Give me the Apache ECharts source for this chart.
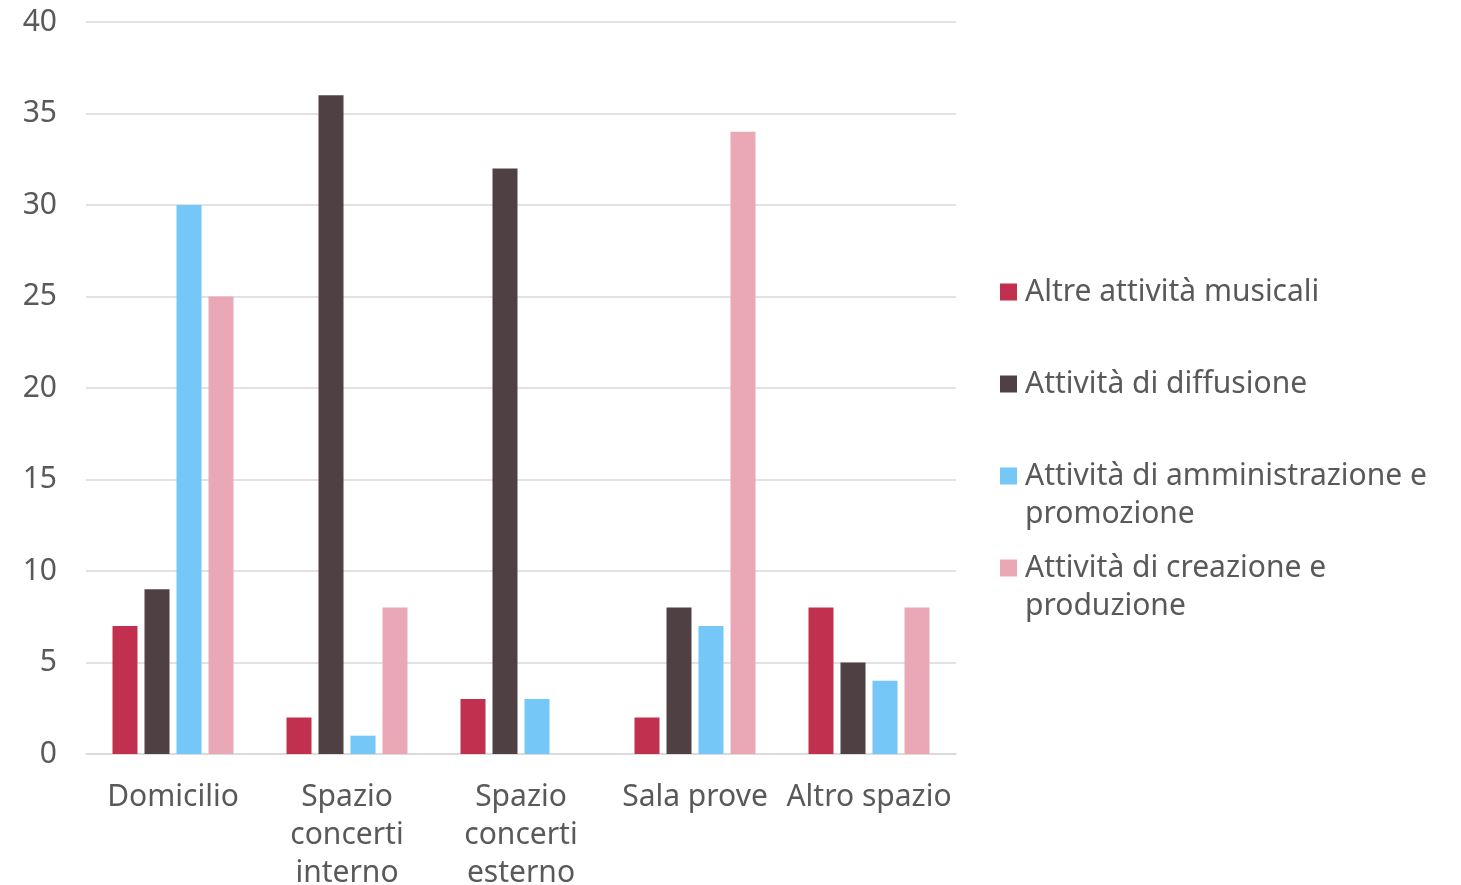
<!DOCTYPE html>
<html>
<head>
<meta charset="utf-8">
<script src="https://cdn.jsdelivr.net/npm/echarts@6/dist/echarts.min.js"></script>
<style>
  html, body { margin: 0; padding: 0; background: #ffffff; }
  #chart { width: 1461px; height: 885px; }
</style>
</head>
<body>
<div id="chart"></div>
<script>
// Luoghi in cui si svolgono le attività
const categories = ['Domicilio', 'Spazio concerti interno', 'Spazio concerti esterno', 'Sala prove', 'Altro spazio'];

const seriesNames = [
  'Altre attività musicali',
  'Attività di diffusione',
  'Attività di amministrazione e promozione',
  'Attività di creazione e produzione'
];

const altreAttivita      = [7, 2, 3, 2, 8];
const diffusione         = [9, 36, 32, 8, 5];
const amministrazione    = [30, 1, 3, 7, 4];
const creazione          = [25, 8, 0, 34, 8];

const yTicks = [0, 5, 10, 15, 20, 25, 30, 35, 40];

const seriesValues = [altreAttivita, diffusione, amministrazione, creazione];
const colors = ['#C1304F', '#4F4043', '#75C7F7', '#EAA8B7'];

const FONT = '"Noto Sans", sans-serif';
const FONT_SIZE = 30;
const TEXT = '#595959';
const GRID_LINE = '#D9D9D9';

const chart = echarts.init(document.getElementById('chart'), null, { renderer: 'canvas' });

// One legend block per series so each entry sits on its own row.
// Wrapped entries get an empty leading line so the swatch, centred on
// the text block, lines up with the first visible line.
const legendCenters = [292, 384, 476, 568];
const LINE_H = 38;
const legends = seriesNames.map((name, i) => {
  const wrapped = name.indexOf(' e ') > 0;
  const boxH = wrapped ? LINE_H * 3 : LINE_H;
  return {
    data: [name],
    orient: 'vertical',
    left: 1000,
    top: legendCenters[i] - boxH / 2,
    padding: 0,
    itemWidth: 17,
    itemHeight: 17,
    icon: 'rect',
    selectedMode: false,
    formatter: n => wrapped ? ' \n' + n.replace(' e ', ' e\n') : n,
    textStyle: {
      fontFamily: FONT,
      fontSize: FONT_SIZE,
      color: TEXT,
      lineHeight: LINE_H,
      padding: [0, 0, 0, 3]
    }
  };
});

chart.setOption({
  animation: false,
  color: colors,
  legend: legends,
  grid: {
    left: 86,
    right: 505,
    top: 22,
    bottom: 131,
    containLabel: false,
    outerBoundsMode: 'none'
  },
  xAxis: {
    type: 'category',
    data: categories,
    axisLine: { show: true, lineStyle: { color: GRID_LINE, width: 1.5 } },
    axisTick: { show: false },
    axisLabel: {
      interval: 0,
      margin: 24,
      fontFamily: FONT,
      fontSize: FONT_SIZE,
      color: TEXT,
      lineHeight: LINE_H,
      formatter: v => v.split(' ').length > 2 ? v.split(' ').join('\n') : v
    }
  },
  yAxis: {
    type: 'value',
    min: yTicks[0],
    max: yTicks[yTicks.length - 1],
    interval: yTicks[1] - yTicks[0],
    axisLine: { show: false },
    axisTick: { show: false },
    splitLine: { lineStyle: { color: GRID_LINE, width: 1.5 } },
    axisLabel: {
      margin: 29,
      fontFamily: FONT,
      fontSize: FONT_SIZE,
      color: TEXT
    }
  },
  series: seriesNames.map((name, i) => ({
    name: name,
    type: 'bar',
    data: seriesValues[i],
    barWidth: 25,
    barGap: '28%',
    itemStyle: { color: colors[i] }
  }))
});
</script>
</body>
</html>
